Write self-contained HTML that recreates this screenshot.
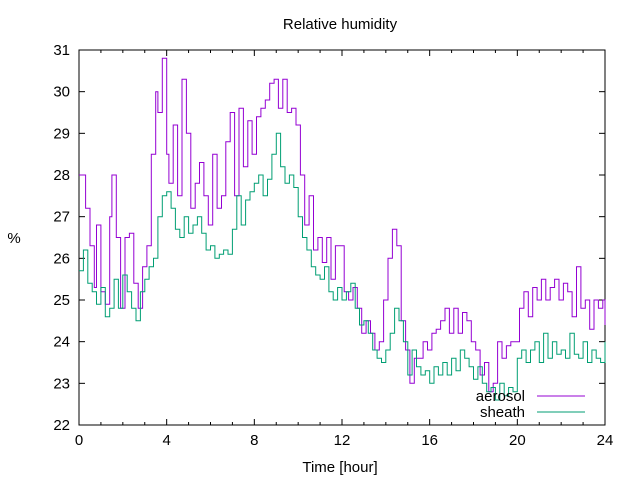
<!DOCTYPE html>
<html><head><meta charset="utf-8"><style>
body{margin:0;background:#fff}
svg text{font-family:"Liberation Sans",sans-serif;font-size:15px;fill:#000}
</style></head><body>
<svg id="chart" width="640" height="480" xmlns="http://www.w3.org/2000/svg">
<rect width="640" height="480" fill="#fff"/>
<text x="340" y="29" text-anchor="middle">Relative humidity</text>
<text x="14" y="243" text-anchor="middle">%</text>
<text x="340" y="472" text-anchor="middle">Time [hour]</text>
<g id="axes"></g>
<g id="series"></g>
<g>
<text x="525" y="401" text-anchor="end">aerosol</text>
<line x1="537" y1="396" x2="585" y2="396" stroke="#9400d3" stroke-width="1"/>
<text x="525" y="417" text-anchor="end">sheath</text>
<line x1="537" y1="412" x2="585" y2="412" stroke="#009e73" stroke-width="1"/>
</g>
</svg>
<script>
const xTicks=[0,4,8,12,16,20,24];
const yTicks=[22,23,24,25,26,27,28,29,30,31];
const aerosolT=[0,0.3,0.5,0.7,0.8,1.0,1.2,1.4,1.5,1.7,1.9,2.1,2.3,2.5,2.7,2.9,3.1,3.3,3.5,3.6,3.8,4.0,4.1,4.3,4.5,4.7,4.9,5.1,5.3,5.5,5.7,5.9,6.1,6.3,6.5,6.7,6.9,7.1,7.3,7.5,7.7,7.9,8.1,8.3,8.5,8.7,8.9,9.1,9.3,9.5,9.7,9.9,10.1,10.3,10.5,10.7,10.9,11.1,11.3,11.5,11.7,11.9,12.1,12.3,12.5,12.7,12.9,13.1,13.3,13.5,13.7,13.9,14.1,14.3,14.5,14.7,14.9,15.1,15.3,15.5,15.7,15.9,16.1,16.3,16.5,16.7,16.9,17.1,17.3,17.5,17.7,17.9,18.1,18.3,18.5,18.7,18.9,19.1,19.3,19.5,19.7,19.9,20.1,20.3,20.5,20.7,20.9,21.1,21.3,21.5,21.7,21.9,22.1,22.3,22.5,22.7,22.9,23.1,23.3,23.5,23.7,23.9,24];
const aerosolV=[28,27.2,26.3,25.3,26.8,25.2,24.9,27,28,26.5,24.8,26.5,26.6,25.4,24.8,25.8,26.3,28.5,30,29.5,30.8,28.5,27.8,29.2,27.5,30.3,29,27.2,27.8,28.3,27.5,26.8,28.5,27.2,27.5,28.8,29.5,27.5,29.6,28.2,29.3,28.5,29.4,29.6,29.8,30.2,30.3,29.6,30.3,29.5,29.6,29.2,28,26.8,27.5,26.2,26.5,25.9,26.5,25.5,26.3,26.3,25.2,25.0,25.3,24.8,24.2,24.5,24.2,23.8,24.0,25.0,26.0,26.7,26.3,24.5,23.8,23.0,23.6,23.6,24.0,23.8,24.2,24.3,24.5,24.8,24.2,24.8,24.2,24.7,24.5,24.0,23.8,23.2,23.5,22.8,23.0,24.0,23.6,23.9,24.0,24.0,24.8,25.2,24.6,25.3,25.0,25.5,25.0,25.3,25.5,25.0,25.4,25.2,24.6,25.8,24.8,25.0,24.3,25.0,24.8,25.0,24.4];
const sheathT=[0,0.2,0.4,0.6,0.8,1.0,1.2,1.4,1.6,1.8,2.0,2.2,2.4,2.6,2.8,3.0,3.2,3.4,3.6,3.8,4.0,4.2,4.4,4.6,4.8,5.0,5.2,5.4,5.6,5.8,6.0,6.2,6.4,6.6,6.8,7.0,7.2,7.4,7.6,7.8,8.0,8.2,8.4,8.6,8.8,9.0,9.2,9.4,9.6,9.8,10.0,10.2,10.4,10.6,10.8,11.0,11.2,11.4,11.6,11.8,12.0,12.2,12.4,12.6,12.8,13.0,13.2,13.4,13.6,13.8,14.0,14.2,14.4,14.6,14.8,15.0,15.2,15.4,15.6,15.8,16.0,16.2,16.4,16.6,16.8,17.0,17.2,17.4,17.6,17.8,18.0,18.2,18.4,18.6,18.8,19.0,19.2,19.4,19.6,19.8,20.0,20.2,20.4,20.6,20.8,21.0,21.2,21.4,21.6,21.8,22.0,22.2,22.4,22.6,22.8,23.0,23.2,23.4,23.6,23.8,24];
const sheathV=[25.7,26.2,25.4,25.2,24.9,25.3,24.6,24.8,25.5,24.8,25.6,25.2,24.8,24.5,25.2,25.5,25.8,26.0,27.0,27.5,27.6,27.2,26.7,26.5,27.0,26.6,26.8,27.0,26.6,26.2,26.3,26.0,26.1,26.2,26.1,26.7,27.5,26.8,27.4,27.6,27.8,28.0,27.5,27.9,28.5,29.0,28.2,27.8,28.0,27.7,27.0,26.5,26.2,25.8,25.6,25.5,25.8,25.2,25.0,25.3,25.0,25.2,25.4,24.8,24.4,24.5,24.2,23.8,23.6,23.5,23.8,24.2,24.8,24.5,24.0,23.2,23.8,23.4,23.2,23.3,23.0,23.4,23.2,23.5,23.2,23.6,23.3,23.8,23.6,23.4,23.1,23.4,23.0,22.8,22.9,22.6,23.0,22.7,22.9,22.8,23.6,23.8,23.5,23.8,24.0,23.5,24.2,23.6,24.0,23.7,23.8,23.6,24.2,23.7,23.6,24.0,23.5,23.8,23.6,23.5,24.0];
const L=79,R=605,T=50,B=425;
const xs=t=>L+(t/24)*(R-L);
const ys=v=>B-(v-22)/9*(B-T);
const NS="http://www.w3.org/2000/svg";
const axes=document.getElementById('axes');
function mk(tag,attrs,parent){const e=document.createElementNS(NS,tag);for(const k in attrs)e.setAttribute(k,attrs[k]);parent.appendChild(e);return e;}
const frame=mk('rect',{x:L,y:T,width:R-L,height:B-T,fill:'none',stroke:'#000','stroke-width':1},axes);


for(let h=0;h<=24;h++){const x=xs(h);const len=(h%4===0)?6:3;
 const a=mk('line',{x1:x,y1:B,x2:x,y2:B-len,stroke:'#000'},axes);
 
 
 const b=mk('line',{x1:x,y1:T,x2:x,y2:T+len,stroke:'#000'},axes);
 
 }
xTicks.forEach(v=>{const t=mk('text',{x:xs(v),y:B+20,'text-anchor':'middle'},axes);t.textContent=v;
 
 });
yTicks.forEach(v=>{const y=ys(v);
 const a=mk('line',{x1:L,y1:y,x2:L+6,y2:y,stroke:'#000'},axes);
 
 
 const b=mk('line',{x1:R,y1:y,x2:R-6,y2:y,stroke:'#000'},axes);
 
 
 const t=mk('text',{x:L-9,y:y+5,'text-anchor':'end'},axes);t.textContent=v;
 
 });
const ser=document.getElementById('series');
function draw(T_,V,color,name){let d='';for(let i=0;i<T_.length;i++){const x=xs(T_[i]).toFixed(1),y=ys(V[i]).toFixed(1);
 if(i===0)d+='M'+x+','+y;else d+='H'+x+'V'+y;}
 const p=mk('path',{d:d,fill:'none',stroke:color,'stroke-width':1},ser);
 
 }
draw(aerosolT,aerosolV,'#9400d3','aerosol-line');
draw(sheathT,sheathV,'#009e73','sheath-line');
</script>
</body></html>
